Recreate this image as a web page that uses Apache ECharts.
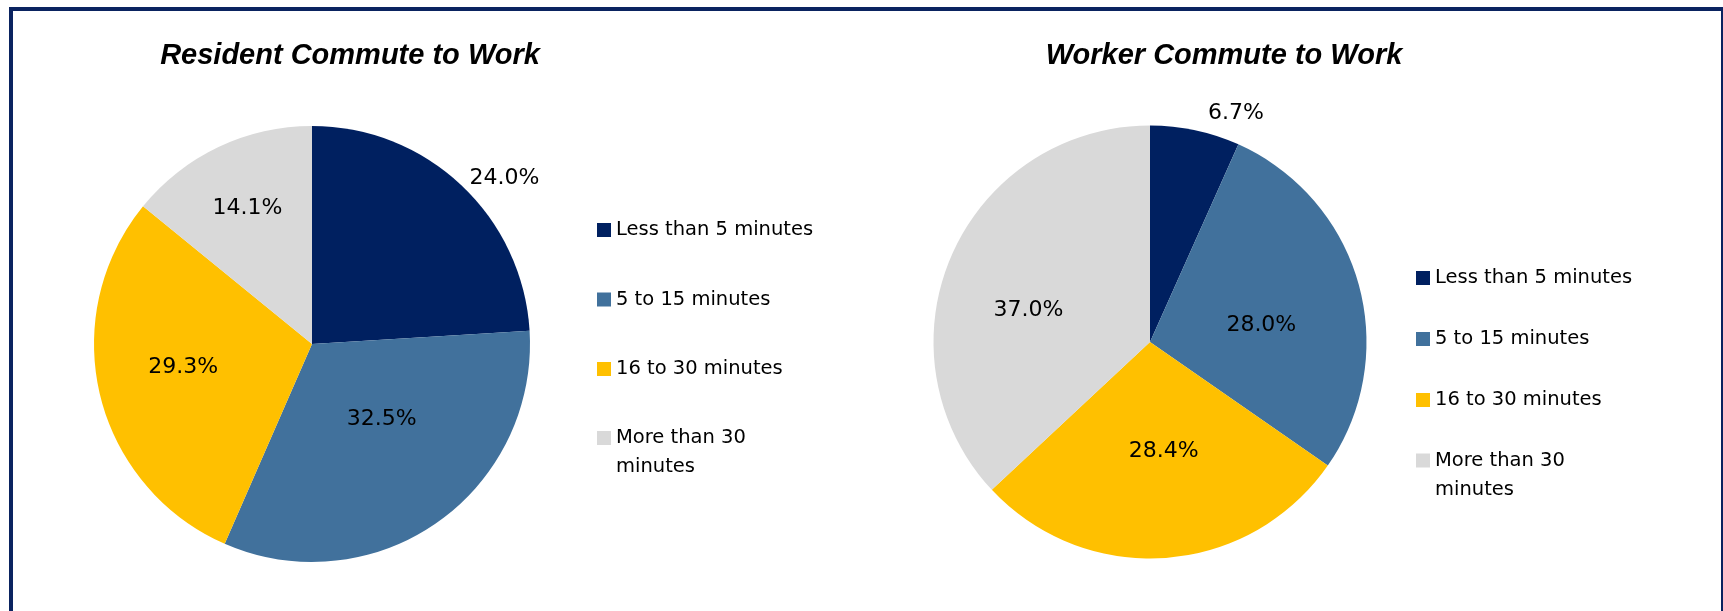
<!DOCTYPE html>
<html><head><meta charset="utf-8">
<script src="https://cdn.jsdelivr.net/npm/echarts@6/dist/echarts.min.js"></script>
<style>html,body{margin:0;padding:0;background:#fff;}#c{width:1723px;height:611px;}</style>
</head><body><div id="c"></div>
<script>
// ---- data ----
const categories = ['Less than 5 minutes', '5 to 15 minutes', '16 to 30 minutes', 'More than 30 minutes'];
const residentValues = [24.0, 32.5, 29.3, 14.1];
const workerValues = [6.7, 28.0, 28.4, 37.0];
const chartTitles = ['Resident Commute to Work', 'Worker Commute to Work'];

// ---- style ----
const colors = ['#002060', '#41719C', '#FFC000', '#D9D9D9'];
const frameColor = '#0a2360';
const bodyFont = 'DejaVu Sans';
// label placement: radial fraction of the pie radius and angular nudge (degrees) per slice
const pieStyles = [
  { cx: 312, cy: 344, r: 218, labelRadius: [1.165, 0.47, 0.60, 0.69], labelNudge: [6, -8, 3.4, 0],
    legendLeft: 592, legendTop: 210.5, legendGap: 40.5, lastLegendTop: 389.5, titleX: 350 },
  { cx: 1150, cy: 342, r: 216.5, labelRadius: [1.127, 0.52, 0.51, 0.58], labelNudge: [8.6, 7, -3, -9],
    legendLeft: 1411, legendTop: 258.5, legendGap: 32, lastLegendTop: 412, titleX: 1224 }
];
const seriesValues = [residentValues, workerValues];

function makeLabelLayout(values, p) {
  const total = values.reduce((a, b) => a + b, 0);
  return function (params) {
    const i = params.dataIndex;
    let before = 0;
    for (let k = 0; k < i; k++) before += values[k];
    const mid = (before + values[i] / 2) / total * 2 * Math.PI + p.labelNudge[i] * Math.PI / 180;
    const d = p.labelRadius[i] * p.r;
    return { x: p.cx + d * Math.sin(mid), y: p.cy - d * Math.cos(mid), align: 'center', verticalAlign: 'middle' };
  };
}

const legendText = { fontFamily: bodyFont, fontSize: 19.5, color: '#000', lineHeight: 29, width: 205, overflow: 'break' };
const legends = [];
pieStyles.forEach(p => {
  // single-line entries
  legends.push({
    orient: 'vertical', left: p.legendLeft, top: p.legendTop, itemGap: p.legendGap,
    itemWidth: 14, itemHeight: 14, icon: 'rect', selectedMode: false,
    data: categories.slice(0, categories.length - 1), textStyle: legendText
  });
  // wrapped entry: marker sits beside its first line
  legends.push({
    orient: 'vertical', left: p.legendLeft, top: p.lastLegendTop,
    itemWidth: 14, itemHeight: 14, icon: 'rect', selectedMode: false,
    data: categories.slice(categories.length - 1), textStyle: legendText,
    formatter: name => '\n' + name
  });
});

const chart = echarts.init(document.getElementById('c'), null, { renderer: 'canvas' });
const option = {
  animation: false,
  backgroundColor: '#ffffff',
  color: colors,
  title: pieStyles.map((p, i) => ({
    text: chartTitles[i], left: p.titleX, top: 41, textAlign: 'center', padding: 0,
    textStyle: { fontFamily: 'Liberation Sans', fontStyle: 'italic', fontWeight: 'bold', fontSize: 29, lineHeight: 29, color: '#000' }
  })),
  legend: legends,
  graphic: [{
    type: 'polyline', silent: true,
    shape: { points: [[11, 650], [11, 9], [1723, 9], [1723, 650]] },
    style: { stroke: frameColor, lineWidth: 4, fill: null }
  }],
  series: pieStyles.map((p, si) => ({
    type: 'pie',
    center: [p.cx, p.cy],
    radius: p.r,
    startAngle: 90,
    clockwise: true,
    avoidLabelOverlap: false,
    emphasis: { disabled: true },
    itemStyle: { borderWidth: 0 },
    label: {
      show: true, color: '#000', fontFamily: bodyFont, fontSize: 22, lineHeight: 22,
      formatter: d => d.value.toFixed(1) + '%'
    },
    labelLine: { show: false },
    labelLayout: makeLabelLayout(seriesValues[si], p),
    data: categories.map((name, k) => ({ name: name, value: seriesValues[si][k] }))
  }))
};
chart.setOption(option);
</script>
</body></html>
